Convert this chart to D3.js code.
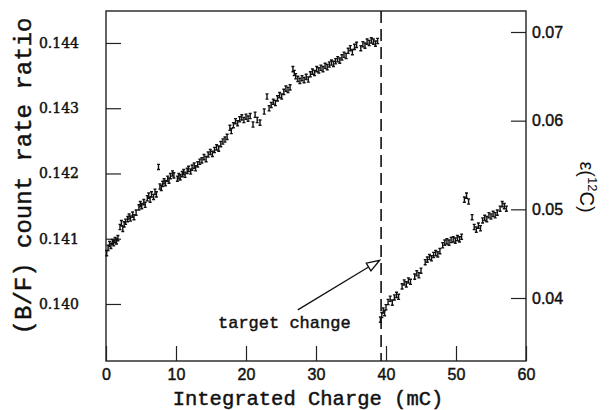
<!DOCTYPE html>
<html>
<head>
<meta charset="utf-8">
<script src="https://cdn.jsdelivr.net/npm/d3@7"></script>
<style>
  body { margin: 0; background: #fff; }
  svg { display: block; }
  .heavy { stroke: #111; stroke-width: 0.45px; }
</style>
</head>
<body>
<script>
// integrated charge (mC) and (B/F) count rate ratio
const charge = [
  0.1, 0.3, 0.5, 0.7, 0.9, 1.1, 1.3, 1.5, 1.7,
  2.0, 2.2, 2.4, 2.6, 2.8, 3.1, 3.3, 3.5, 3.8, 4.0, 4.3,
  4.7, 4.9, 5.1, 5.4, 5.6, 5.9, 6.1, 6.3, 6.5, 6.8, 7.0, 7.2, 7.5,
  7.7, 7.9, 8.1, 8.3, 8.5, 8.8, 9.0, 9.2, 9.5, 9.7,
  10.2, 10.4, 10.6, 10.9, 11.1, 11.3, 11.6, 11.8, 12.1, 12.3, 12.6, 12.8,
  13.1, 13.4, 13.7, 14.0, 14.3, 14.6, 14.9, 15.2, 15.5, 15.8, 16.1, 16.4,
  16.7, 17.0, 17.3, 17.7, 17.9, 18.2, 18.5, 18.8, 19.1, 19.4, 19.7, 20.0,
  20.3, 20.6, 21.0, 21.3, 21.6, 22.0, 22.6, 23.0, 23.3, 23.6, 23.9, 24.2,
  24.5, 24.8, 25.1, 25.4, 25.7, 26.0, 26.3,
  26.7, 26.9, 27.1, 27.4, 27.7, 28.0, 28.3, 28.6, 28.9, 29.2, 29.5, 29.8,
  30.1, 30.4, 30.7, 31.0, 31.3, 31.6, 31.9, 32.2, 32.5, 32.8, 33.1, 33.4,
  33.7, 34.0, 34.3, 34.6, 34.9, 35.2, 35.5, 35.8, 36.4, 36.7, 37.0, 37.3,
  37.6, 37.9, 38.2, 38.5, 38.8,
  39.2, 39.4, 39.6, 39.8, 40.0, 40.3, 40.6, 40.9, 41.2, 41.5, 41.8,
  42.3, 42.6, 42.9, 43.2, 43.5, 44.1, 44.4, 44.7, 45.0,
  45.6, 45.9, 46.2, 46.5, 46.8, 47.1, 47.4, 47.7, 48.1, 48.4, 48.7, 49.0,
  49.3, 49.6, 49.9, 50.2, 50.5, 50.8, 51.2, 51.5, 51.8,
  52.3, 52.6, 52.9, 53.2, 53.5, 53.8, 54.1, 54.4, 54.7, 55.0, 55.3, 55.6,
  55.9, 56.3, 56.6, 56.9, 57.2
];
const ratio = [
  0.14078, 0.14086, 0.14092, 0.14089, 0.14095, 0.14093, 0.14098, 0.14096, 0.14101,
  0.14118, 0.14124, 0.14115, 0.14122, 0.14126, 0.14130, 0.14134, 0.14131, 0.14137, 0.14133, 0.14140,
  0.14148, 0.14153, 0.14150, 0.14156, 0.14152, 0.14162, 0.14166, 0.14160, 0.14168, 0.14164, 0.14172, 0.14168, 0.14210,
  0.14180, 0.14178, 0.14184, 0.14188, 0.14185, 0.14192, 0.14189, 0.14196, 0.14200, 0.14197,
  0.14192, 0.14196, 0.14194, 0.14199, 0.14202, 0.14198, 0.14204, 0.14207, 0.14203, 0.14209, 0.14212, 0.14208,
  0.14214, 0.14218, 0.14220, 0.14225, 0.14222, 0.14229, 0.14233, 0.14230, 0.14236, 0.14240, 0.14238, 0.14245,
  0.14249, 0.14252, 0.14256, 0.14270, 0.14265, 0.14274, 0.14280, 0.14277, 0.14283, 0.14286, 0.14282, 0.14287,
  0.14284, 0.14288, 0.14275, 0.14290, 0.14282, 0.14278, 0.14295, 0.14318, 0.14300, 0.14305, 0.14310, 0.14308,
  0.14315, 0.14320, 0.14318, 0.14325, 0.14330, 0.14328, 0.14332,
  0.14360, 0.14354, 0.14349, 0.14345, 0.14342, 0.14346, 0.14343, 0.14348, 0.14344, 0.14352, 0.14356, 0.14354,
  0.14360, 0.14358, 0.14362, 0.14360, 0.14365, 0.14363, 0.14367, 0.14370, 0.14368, 0.14372, 0.14375, 0.14373,
  0.14378, 0.14382, 0.14380, 0.14388, 0.14392, 0.14386, 0.14394, 0.14397, 0.14392, 0.14398, 0.14396, 0.14402,
  0.14400, 0.14404, 0.14402, 0.14399, 0.14403,
  0.13976, 0.13983, 0.13990, 0.13986, 0.13995, 0.14003, 0.14008, 0.14002, 0.14010, 0.14014, 0.14011,
  0.14027, 0.14033, 0.14030, 0.14036, 0.14034, 0.14042, 0.14047, 0.14044, 0.14051,
  0.14064, 0.14068, 0.14072, 0.14070, 0.14075, 0.14078, 0.14076, 0.14081, 0.14090, 0.14094, 0.14096, 0.14094,
  0.14098, 0.14099, 0.14097, 0.14101, 0.14099, 0.14103, 0.14160, 0.14166, 0.14157,
  0.14133, 0.14118, 0.14114, 0.14120, 0.14116, 0.14128, 0.14132, 0.14130, 0.14136, 0.14134, 0.14138, 0.14136,
  0.14140, 0.14146, 0.14153, 0.14150, 0.14146
];
const ratioErr = 0.00004;

const xTicks = [0, 10, 20, 30, 40, 50, 60];
const leftTicks = [0.140, 0.141, 0.142, 0.143, 0.144];
const rightTicks = [0.04, 0.05, 0.06, 0.07];

const targetChange = 39.3;   // mC
const arrowFrom = [27.4, 0.13991], arrowTo = [39.1, 0.14067];
const noteAt = [16.0, 0.13963];

const width = 609, height = 410;
const margin = {top: 11, right: 83, bottom: 49, left: 106};
const w = width - margin.left - margin.right, h = height - margin.top - margin.bottom;

const svg = d3.select("body").append("svg").attr("width", width).attr("height", height);
const g = svg.append("g").attr("transform", `translate(${margin.left},${margin.top})`);

const x = d3.scaleLinear().domain([0, 60]).range([0, w]);
const y = d3.scaleLinear().domain([0.139126, 0.144490]).range([h, 0]);
const y2 = d3.scaleLinear().domain([0.032895, 0.072368]).range([h, 0]);

// axes, ticks inside the frame
const xAxis = g.append("g").attr("transform", `translate(0,${h})`)
  .call(d3.axisBottom(x).tickValues(xTicks).tickSize(-15).tickPadding(8).tickFormat(d3.format("d")));
xAxis.selectAll("text").attr("font-family", "Liberation Sans").attr("font-size", 16);

const yAxis = g.append("g")
  .call(d3.axisLeft(y).tickValues(leftTicks).tickSize(-15).tickPadding(27).tickFormat(d3.format(".3f")));
yAxis.selectAll("text").attr("font-family", "DejaVu Serif").attr("font-size", 14);

const y2Axis = g.append("g").attr("transform", `translate(${w},0)`)
  .call(d3.axisRight(y2).tickValues(rightTicks).tickSize(-15).tickPadding(6).tickFormat(d3.format(".2f")));
y2Axis.selectAll("text").attr("font-family", "Liberation Sans").attr("font-size", 16);

g.selectAll(".domain").remove();
g.selectAll(".tick line").attr("stroke", "#222").attr("stroke-width", 1.2);
g.selectAll(".tick text").attr("fill", "#111").attr("class", "heavy");

g.append("rect").attr("width", w).attr("height", h)
  .attr("fill", "none").attr("stroke", "#222").attr("stroke-width", 1.4);

// target change marker
g.append("line")
  .attr("x1", x(targetChange)).attr("x2", x(targetChange))
  .attr("y1", 0).attr("y2", h)
  .attr("stroke", "#111").attr("stroke-width", 1.6).attr("stroke-dasharray", "12,6");

// data points with error bars
const pts = charge.map((c, i) => [c, ratio[i]]);
g.append("g").selectAll("path").data(pts).join("path")
  .attr("d", d => {
    const px = x(d[0]), yt = y(d[1] + ratioErr), yb = y(d[1] - ratioErr);
    return `M${px - 1.5},${yt}H${px + 1.5}M${px},${yt}V${yb}M${px - 1.5},${yb}H${px + 1.5}`;
  })
  .attr("fill", "none").attr("stroke", "#111").attr("stroke-width", 1.4);

// arrow annotation
const ax0 = x(arrowFrom[0]), ay0 = y(arrowFrom[1]), ax1 = x(arrowTo[0]), ay1 = y(arrowTo[1]);
const ang = Math.atan2(ay1 - ay0, ax1 - ax0);
const hl = 13, hw = 4.5;
const bx = ax1 - hl * Math.cos(ang), by = ay1 - hl * Math.sin(ang);
g.append("line").attr("x1", ax0).attr("y1", ay0).attr("x2", bx).attr("y2", by)
  .attr("stroke", "#111").attr("stroke-width", 1.3);
g.append("path")
  .attr("d", `M${ax1},${ay1}L${bx - hw * Math.sin(ang)},${by + hw * Math.cos(ang)}L${bx + hw * Math.sin(ang)},${by - hw * Math.cos(ang)}Z`)
  .attr("fill", "#fff").attr("stroke", "#111").attr("stroke-width", 1.3);

g.append("text").attr("x", x(noteAt[0])).attr("y", y(noteAt[1]))
  .attr("class", "heavy")
  .attr("font-family", "Liberation Mono").attr("font-size", 17).attr("fill", "#111")
  .text("target change");

// axis titles
svg.append("text").attr("x", margin.left + w / 2 - 8).attr("y", 405)
  .attr("class", "heavy")
  .attr("text-anchor", "middle").attr("font-family", "Liberation Mono").attr("font-size", 20.5)
  .attr("fill", "#111").text("Integrated Charge (mC)");

svg.append("text").attr("transform", "translate(31,176) rotate(-90)")
  .attr("class", "heavy")
  .attr("text-anchor", "middle").attr("font-family", "Liberation Mono").attr("font-size", 24)
  .attr("fill", "#111").text("(B/F) count rate ratio");

const rt = svg.append("text").attr("transform", "translate(580,187) rotate(90)")
  .attr("text-anchor", "middle").attr("font-family", "Liberation Sans").attr("font-size", 20)
  .attr("fill", "#111");
rt.append("tspan").text("ε(");
rt.append("tspan").attr("font-size", 13).attr("dy", -8).text("12");
rt.append("tspan").attr("dy", 8).text("C)");
</script>
</body>
</html>
